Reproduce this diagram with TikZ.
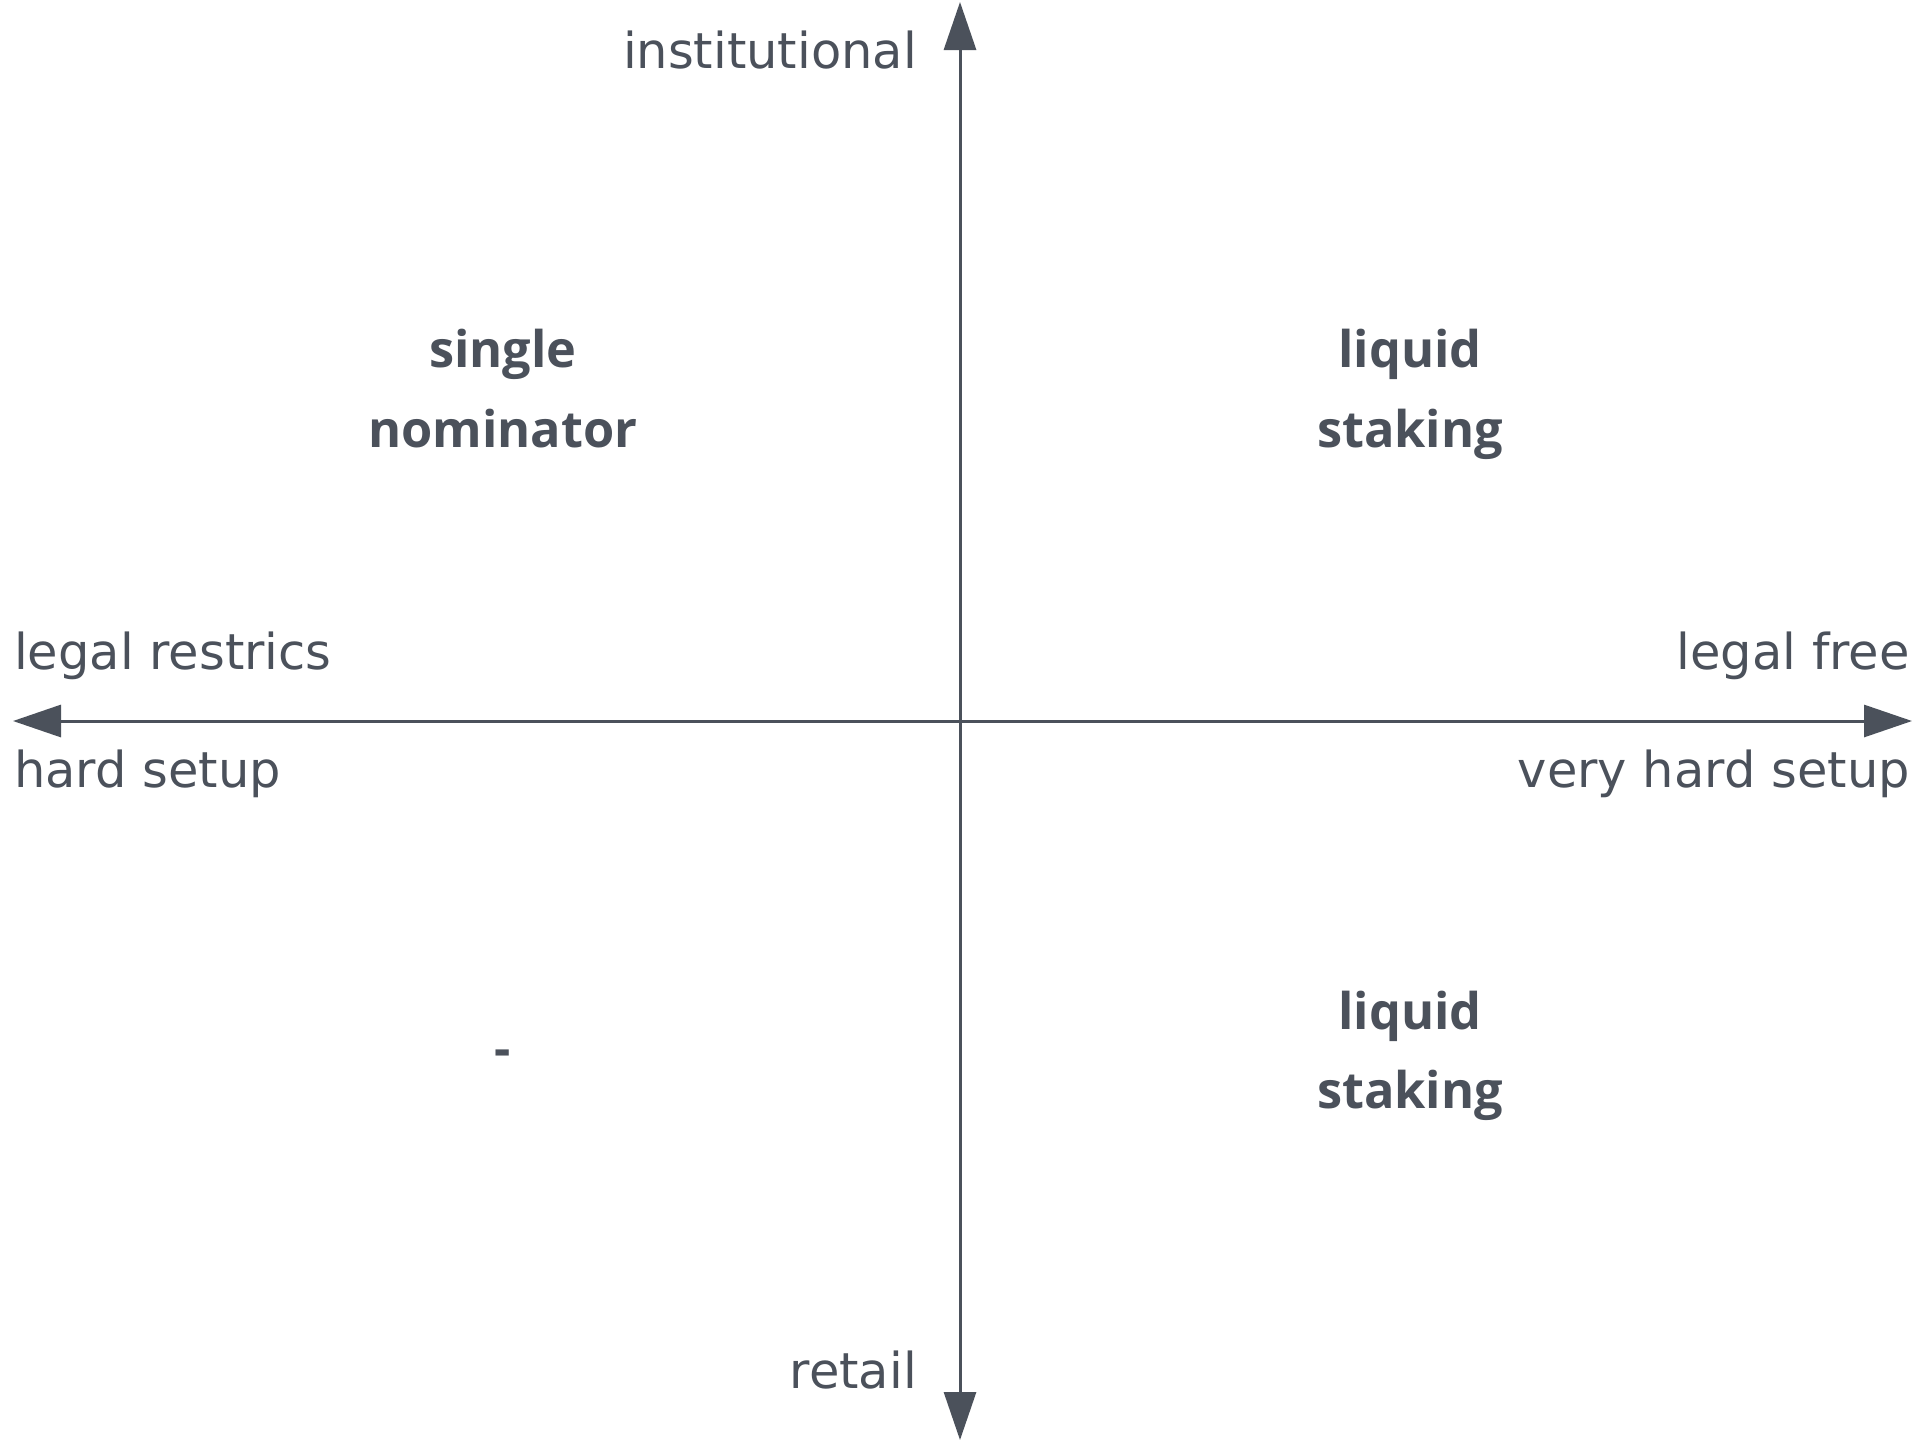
\documentclass[tikz,border=0pt]{standalone}
\usepackage{fontspec}
\setmainfont{Open Sans}
\newfontfamily\lblfont{DejaVu Sans}
\usetikzlibrary{arrows.meta}
\definecolor{ink}{HTML}{4B515B}
\begin{document}
\begin{tikzpicture}[x=1pt,y=-1pt,
  axis/.style={draw=ink,line width=3pt,{Triangle[length=48pt,width=32pt]}-{Triangle[length=48pt,width=32pt]}},
  lbl/.style={text=ink,inner sep=0pt,font=\lblfont\fontsize{49.5}{58}\selectfont},
  big/.style={text=ink,inner sep=0pt,anchor=base,font=\fontsize{50.5}{60}\selectfont\bfseries}]
\useasboundingbox (0,0) rectangle (1926,1443);
\fill[white] (0,0) rectangle (1926,1443);
\coordinate (top) at (960,2);
\coordinate (bot) at (960,1440);
\coordinate (lft) at (13,721);
\coordinate (rgt) at (1912,721);
\draw[axis] (bot) -- (top);
\draw[axis] (lft) -- (rgt);
\node[lbl,anchor=base east] (inst) at (917,68) {institutional};
\node[lbl,anchor=base east] (ret) at (917,1388) {retail};
\node[lbl,anchor=base west] (lr) at (14,669) {legal restrics};
\node[lbl,anchor=base west] (hs) at (14,787) {hard setup};
\node[lbl,anchor=base east] (lf) at (1910,669) {legal free};
\node[lbl,anchor=base east] (vhs) at (1910,787) {very hard setup};
\node[big] (sn1) at (503,367) {single};
\node[big] (sn2) at (503,447) {nominator};
\node[big] (ls1) at (1410,367) {liquid};
\node[big] (ls2) at (1410,447) {staking};
\node[big] (lb1) at (1410,1029) {liquid};
\node[big] (lb2) at (1410,1108) {staking};
\node[big] (dash) at (503,1066) {-};
\end{tikzpicture}
\end{document}
